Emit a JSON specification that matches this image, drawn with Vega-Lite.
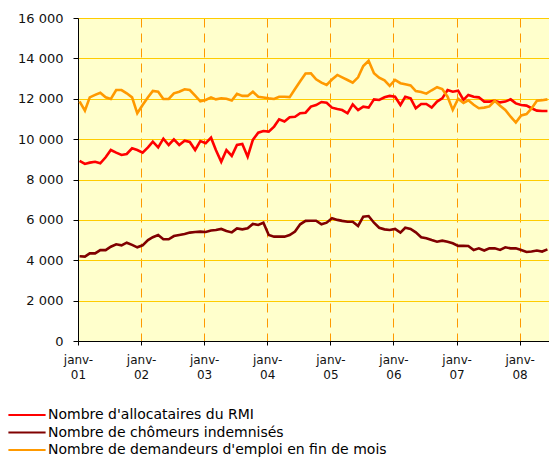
{
  "$schema": "https://vega.github.io/schema/vega-lite/v6.json",
  "width": 471,
  "height": 323,
  "autosize": {"type": "none"},
  "padding": {"left": 78, "top": 18, "right": 0, "bottom": 116},
  "background": "#ffffff",
  "config": {
    "view": {"fill": "#FFFFCC", "stroke": null},
    "font": "DejaVu Sans"
  },
  "data": {
    "values": [
      {"d": "2001/01/10", "a": 8920, "c": 4200, "e": 11870},
      {"d": "2001/02/10", "a": 8770, "c": 4180, "e": 11410},
      {"d": "2001/03/10", "a": 8835, "c": 4340, "e": 12070},
      {"d": "2001/04/10", "a": 8880, "c": 4340, "e": 12190},
      {"d": "2001/05/10", "a": 8800, "c": 4500, "e": 12300},
      {"d": "2001/06/10", "a": 9100, "c": 4500, "e": 12070},
      {"d": "2001/07/10", "a": 9460, "c": 4670, "e": 11990},
      {"d": "2001/08/10", "a": 9330, "c": 4790, "e": 12430},
      {"d": "2001/09/10", "a": 9215, "c": 4740, "e": 12430},
      {"d": "2001/10/10", "a": 9265, "c": 4870, "e": 12270},
      {"d": "2001/11/10", "a": 9545, "c": 4760, "e": 12070},
      {"d": "2001/12/10", "a": 9460, "c": 4640, "e": 11280},
      {"d": "2002/01/10", "a": 9330, "c": 4740, "e": 11690},
      {"d": "2002/02/10", "a": 9595, "c": 5000, "e": 12070},
      {"d": "2002/03/10", "a": 9875, "c": 5140, "e": 12390},
      {"d": "2002/04/10", "a": 9595, "c": 5250, "e": 12350},
      {"d": "2002/05/10", "a": 10025, "c": 5040, "e": 11990},
      {"d": "2002/06/10", "a": 9710, "c": 5040, "e": 11990},
      {"d": "2002/07/10", "a": 9990, "c": 5200, "e": 12270},
      {"d": "2002/08/10", "a": 9710, "c": 5250, "e": 12350},
      {"d": "2002/09/10", "a": 9925, "c": 5300, "e": 12470},
      {"d": "2002/10/10", "a": 9860, "c": 5370, "e": 12430},
      {"d": "2002/11/10", "a": 9460, "c": 5400, "e": 12150},
      {"d": "2002/12/10", "a": 9900, "c": 5420, "e": 11870},
      {"d": "2003/01/10", "a": 9800, "c": 5400, "e": 11940},
      {"d": "2003/02/10", "a": 10070, "c": 5470, "e": 12070},
      {"d": "2003/03/10", "a": 9460, "c": 5500, "e": 11970},
      {"d": "2003/04/10", "a": 8880, "c": 5550, "e": 12020},
      {"d": "2003/05/10", "a": 9460, "c": 5450, "e": 12000},
      {"d": "2003/06/10", "a": 9170, "c": 5380, "e": 11910},
      {"d": "2003/07/10", "a": 9710, "c": 5580, "e": 12240},
      {"d": "2003/08/10", "a": 9760, "c": 5530, "e": 12140},
      {"d": "2003/09/10", "a": 9130, "c": 5580, "e": 12140},
      {"d": "2003/10/10", "a": 9960, "c": 5800, "e": 12350},
      {"d": "2003/11/10", "a": 10320, "c": 5750, "e": 12100},
      {"d": "2003/12/10", "a": 10400, "c": 5860, "e": 12060},
      {"d": "2004/01/10", "a": 10370, "c": 5250, "e": 12020},
      {"d": "2004/02/10", "a": 10620, "c": 5170, "e": 11990},
      {"d": "2004/03/10", "a": 10980, "c": 5170, "e": 12100},
      {"d": "2004/04/10", "a": 10870, "c": 5170, "e": 12100},
      {"d": "2004/05/10", "a": 11080, "c": 5250, "e": 12080},
      {"d": "2004/06/10", "a": 11110, "c": 5420, "e": 12480},
      {"d": "2004/07/10", "a": 11280, "c": 5780, "e": 12870},
      {"d": "2004/08/10", "a": 11310, "c": 5950, "e": 13250},
      {"d": "2004/09/10", "a": 11610, "c": 5960, "e": 13260},
      {"d": "2004/10/10", "a": 11690, "c": 5960, "e": 12960},
      {"d": "2004/11/10", "a": 11840, "c": 5780, "e": 12800},
      {"d": "2004/12/10", "a": 11800, "c": 5860, "e": 12680},
      {"d": "2005/01/10", "a": 11560, "c": 6080, "e": 12950},
      {"d": "2005/02/10", "a": 11490, "c": 6000, "e": 13180},
      {"d": "2005/03/10", "a": 11440, "c": 5950, "e": 13060},
      {"d": "2005/04/10", "a": 11280, "c": 5910, "e": 12930},
      {"d": "2005/05/10", "a": 11720, "c": 5910, "e": 12800},
      {"d": "2005/06/10", "a": 11440, "c": 5700, "e": 13060},
      {"d": "2005/07/10", "a": 11610, "c": 6160, "e": 13620},
      {"d": "2005/08/10", "a": 11560, "c": 6190, "e": 13880},
      {"d": "2005/09/10", "a": 11970, "c": 5860, "e": 13260},
      {"d": "2005/10/10", "a": 11940, "c": 5610, "e": 13040},
      {"d": "2005/11/10", "a": 12070, "c": 5530, "e": 12910},
      {"d": "2005/12/10", "a": 12140, "c": 5500, "e": 12640},
      {"d": "2006/01/10", "a": 12100, "c": 5550, "e": 12930},
      {"d": "2006/02/10", "a": 11690, "c": 5370, "e": 12770},
      {"d": "2006/03/10", "a": 12100, "c": 5610, "e": 12720},
      {"d": "2006/04/10", "a": 12020, "c": 5550, "e": 12660},
      {"d": "2006/05/10", "a": 11530, "c": 5380, "e": 12380},
      {"d": "2006/06/10", "a": 11740, "c": 5140, "e": 12330},
      {"d": "2006/07/10", "a": 11740, "c": 5090, "e": 12250},
      {"d": "2006/08/10", "a": 11560, "c": 5000, "e": 12420},
      {"d": "2006/09/10", "a": 11860, "c": 4920, "e": 12570},
      {"d": "2006/10/10", "a": 12020, "c": 4970, "e": 12480},
      {"d": "2006/11/10", "a": 12430, "c": 4920, "e": 12100},
      {"d": "2006/12/10", "a": 12350, "c": 4840, "e": 11450},
      {"d": "2007/01/10", "a": 12400, "c": 4710, "e": 12000},
      {"d": "2007/02/10", "a": 11940, "c": 4720, "e": 11790},
      {"d": "2007/03/10", "a": 12190, "c": 4710, "e": 11920},
      {"d": "2007/04/10", "a": 12100, "c": 4510, "e": 11700},
      {"d": "2007/05/10", "a": 12070, "c": 4590, "e": 11530},
      {"d": "2007/06/10", "a": 11860, "c": 4480, "e": 11560},
      {"d": "2007/07/10", "a": 11860, "c": 4590, "e": 11620},
      {"d": "2007/08/10", "a": 11900, "c": 4590, "e": 11900},
      {"d": "2007/09/10", "a": 11820, "c": 4510, "e": 11650},
      {"d": "2007/10/10", "a": 11860, "c": 4640, "e": 11450},
      {"d": "2007/11/10", "a": 11970, "c": 4590, "e": 11110},
      {"d": "2007/12/10", "a": 11770, "c": 4590, "e": 10820},
      {"d": "2008/01/10", "a": 11690, "c": 4510, "e": 11170},
      {"d": "2008/02/10", "a": 11660, "c": 4410, "e": 11240},
      {"d": "2008/03/10", "a": 11530, "c": 4430, "e": 11520},
      {"d": "2008/04/10", "a": 11410, "c": 4480, "e": 11900},
      {"d": "2008/05/10", "a": 11390, "c": 4430, "e": 11930},
      {"d": "2008/06/10", "a": 11390, "c": 4540, "e": 11970}
    ]
  },
  "transform": [{"fold": ["a", "c", "e"], "as": ["k", "v"]}],
  "mark": {"type": "line", "strokeWidth": 2.6, "clip": true},
  "encoding": {
    "x": {
      "field": "d",
      "type": "temporal",
      "scale": {"domain": [{"year": 2001, "month": 1, "date": 1}, {"year": 2008, "month": 6, "date": 19}]},
      "axis": {
        "title": null,
        "values": [
          {"year": 2001, "month": 1, "date": 1},
          {"year": 2002, "month": 1, "date": 1},
          {"year": 2003, "month": 1, "date": 1},
          {"year": 2004, "month": 1, "date": 1},
          {"year": 2005, "month": 1, "date": 1},
          {"year": 2006, "month": 1, "date": 1},
          {"year": 2007, "month": 1, "date": 1},
          {"year": 2008, "month": 1, "date": 1}
        ],
        "labelExpr": "['janv-', timeFormat(datum.value, '%y')]",
        "labelFontSize": 12,
        "labelColor": "#111111",
        "labelLineHeight": 15,
        "labelPadding": 9,
        "labelAlign": "center",
        "labelFlush": false,
        "labelOverlap": false,
        "tickSize": 4,
        "tickColor": "#000000",
        "domainColor": "#000000",
        "grid": true,
        "gridColor": "#FF9900",
        "gridDash": [9, 6],
        "gridWidth": 1
      }
    },
    "y": {
      "field": "v",
      "type": "quantitative",
      "scale": {"domain": [0, 16000], "nice": false},
      "axis": {
        "title": null,
        "values": [0, 2000, 4000, 6000, 8000, 10000, 12000, 14000, 16000],
        "labelExpr": "replace(format(datum.value, ','), ',', ' ')",
        "labelFontSize": 13,
        "labelColor": "#111111",
        "labelPadding": 10,
        "tickSize": 5,
        "tickColor": "#000000",
        "domainColor": "#000000",
        "grid": true,
        "gridColor": "#FFCC00",
        "gridWidth": 1.2
      }
    },
    "color": {
      "field": "k",
      "type": "nominal",
      "scale": {"domain": ["a", "c", "e"], "range": ["#FF0000", "#800000", "#FF9900"]},
      "legend": {
        "title": null,
        "orient": "none",
        "legendX": -58,
        "legendY": 390,
        "direction": "vertical",
        "symbolType": "M-3.1,0H3.1",
        "symbolSize": 144,
        "symbolStrokeWidth": 2,
        "labelFontSize": 14,
        "labelColor": "#000000",
        "labelOffset": 14,
        "rowPadding": 3.5,
        "labelLimit": 500,
        "labelExpr": "datum.value == 'a' ? \"Nombre d'allocataires du RMI\" : datum.value == 'c' ? 'Nombre de chômeurs indemnisés' : \"Nombre de demandeurs d'emploi en fin de mois\""
      }
    }
  }
}
